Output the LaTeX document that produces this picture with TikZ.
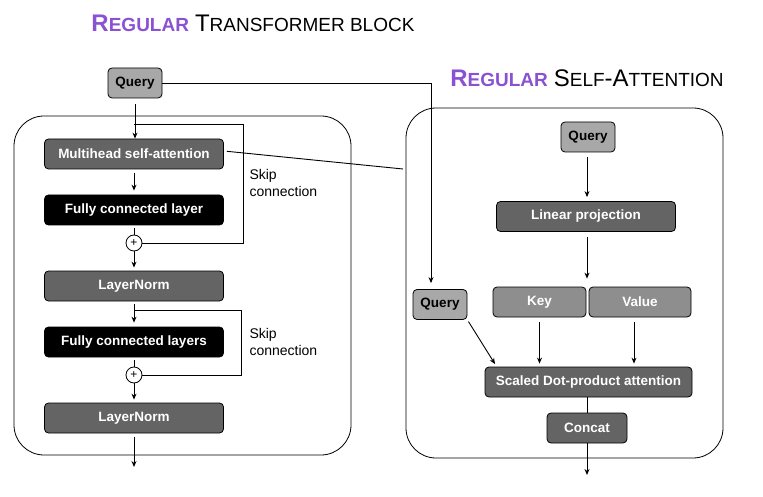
\documentclass[tikz,border=0pt]{standalone}
\usepackage{fontspec}
\setmainfont{Liberation Sans}
\usepackage{tikz}
\usetikzlibrary{shapes,arrows.meta}
\definecolor{titlepurple}{HTML}{8A52D2}
\definecolor{boxdark}{HTML}{646464}
\definecolor{boxmid}{HTML}{8E8E8E}
\definecolor{boxlight}{HTML}{A8A8A8}
\newcommand{\fakesc}[2]{{\fontsize{24}{28}\selectfont #1}{\fontsize{19}{22}\selectfont #2}}
\tikzset{
  blk/.style={draw=black, line width=0.8pt, rounded corners=4pt, minimum height=30pt,
    font=\bfseries\fontsize{13.5}{16}\selectfont, inner sep=2pt},
  darkblk/.style={blk, fill=boxdark, text=white},
  fcblk/.style={blk, fill=black, text=white},
  midblk/.style={blk, fill=boxmid, text=white},
  queryblk/.style={blk, fill=boxlight, text=black, minimum width=54pt},
  bigbox/.style={draw=black, line width=0.8pt, rounded corners=30pt},
  plusnode/.style={circle, draw=black, line width=0.8pt, fill=white, inner sep=0pt,
    minimum size=16pt, font=\fontsize{12}{12}\selectfont},
  skiplbl/.style={align=left, anchor=west, font=\fontsize{14}{17}\selectfont},
  titlelbl/.style={inner sep=0pt},
  arr/.style={line width=0.9pt, -{Stealth[length=6pt,width=5pt]}},
  ln/.style={line width=0.9pt}
}
\begin{document}
\begin{tikzpicture}[x=1pt,y=-1pt]
   \useasboundingbox (0,0) rectangle (763,497);
   \node[bigbox, minimum width=337pt, minimum height=339pt] (blockbox) at (182.5,285.5) {};
   \node[bigbox, minimum width=317pt, minimum height=350pt] (attbox) at (564.5,283) {};
   \node[titlelbl] (title1) at (253,23) {{\color{titlepurple}\bfseries\fakesc{R}{EGULAR}}\hspace{6pt}\fakesc{T}{RANSFORMER BLOCK}};
   \node[titlelbl] (title2) at (587,78) {{\color{titlepurple}\bfseries\fakesc{R}{EGULAR}}\hspace{6pt}\fakesc{S}{ELF}\fakesc{-A}{TTENTION}};
   \node[queryblk] (q1) at (135,83) {Query};
   \node[darkblk, minimum width=179pt] (mh) at (134,154) {Multihead self-attention};
   \node[fcblk, minimum width=179pt] (fc1) at (134,210) {Fully connected layer};
   \node[plusnode] (p1) at (134,243) {+};
   \node[darkblk, minimum width=179pt] (ln1) at (134,286) {LayerNorm};
   \node[fcblk, minimum width=179pt] (fc2) at (134,342) {Fully connected layers};
   \node[plusnode] (p2) at (134,375) {+};
   \node[darkblk, minimum width=179pt] (ln2) at (134,418) {LayerNorm};
   \node[skiplbl] (sk1) at (246,183) {Skip\\connection};
   \node[skiplbl] (sk2) at (246,342) {Skip\\connection};
   \coordinate (s1) at (134,124);
   \coordinate (k1) at (243,243);
   \coordinate (s2) at (134,310);
   \coordinate (k2) at (241,375);
   \coordinate (out1) at (134,467);
   \draw[arr, shorten <=6pt] (q1.south) -- (q1.south |- mh.north);
   \draw[ln] (s1) -| (k1) -- (p1.east);
   \draw[arr, shorten <=4pt, shorten >=4pt] (mh.south) -- (fc1.north);
   \draw[ln, shorten <=3pt] (fc1.south) -- (p1.north);
   \draw[arr, shorten >=3pt] (p1.south) -- (ln1.north);
   \draw[arr, shorten <=3pt, shorten >=4pt] (ln1.south) -- (fc2.north);
   \draw[ln] (s2) -| (k2) -- (p2.east);
   \draw[ln, shorten <=3pt] (fc2.south) -- (p2.north);
   \draw[arr, shorten >=3pt] (p2.south) -- (ln2.north);
   \draw[arr, shorten <=4pt] (ln2.south) -- (out1);
   \node[queryblk] (q2) at (588,137) {Query};
   \node[darkblk, minimum width=179pt] (lp) at (586,216.5) {Linear projection};
   \node[midblk, minimum width=93pt] (key) at (539.5,302) {Key};
   \node[midblk, minimum width=102pt] (val) at (640,302) {Value};
   \node[queryblk] (q3) at (440,304.5) {Query};
   \node[darkblk, minimum width=207pt] (sdp) at (588.5,382) {Scaled Dot-product attention};
   \node[darkblk, minimum width=80pt] (cc) at (587,428) {Concat};
   \coordinate (t1) at (431,83);
   \coordinate (m1) at (403,169);
   \coordinate (out2) at (587,475);
   \draw[arr, shorten >=6pt] (q1.east) -- (t1) -- (t1 |- q3.north);
   \draw[ln, shorten <=3pt] ([yshift=3pt]mh.east) -- (m1);
   \draw[arr, shorten <=5pt, shorten >=4pt] (587,137 |- q2.south) -- (587,137 |- lp.north);
   \draw[arr, shorten <=5pt, shorten >=8pt] (587,0 |- lp.south) -- (587,0 |- key.north);
   \draw[arr, shorten <=5pt, shorten >=3pt] (key.south) -- (key.south |- sdp.north);
   \draw[arr, shorten <=5pt, shorten >=3pt] ([xshift=-6pt]val.south) -- ([xshift=-6pt]val.south |- sdp.north);
   \draw[arr, shorten <=2pt, shorten >=3pt] (q3.south east) -- ([xshift=12pt]sdp.north west);
   \draw[ln] (sdp.south -| cc.north) -- (cc.north);
   \draw[arr] (cc.south) -- (out2);
\end{tikzpicture}
\end{document}
